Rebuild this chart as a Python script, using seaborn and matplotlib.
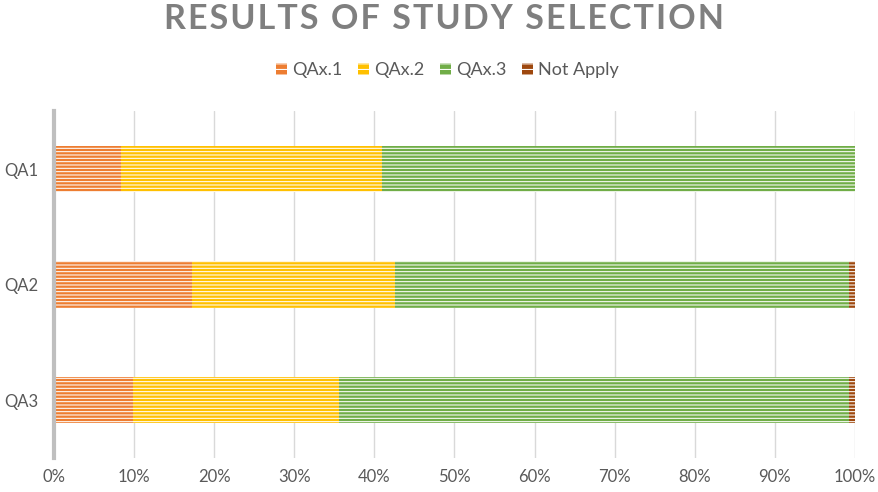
import matplotlib
matplotlib.use("Agg")
import matplotlib.pyplot as plt
import seaborn as sns
import pandas as pd
import numpy as np

# ==================== DATA ====================
QUESTIONS = ["QA1", "QA2", "QA3"]
SERIES = ["QAx.1", "QAx.2", "QAx.3", "Not Apply"]
QAX1 = [8.4, 17.2, 9.9]
QAX2 = [32.6, 25.4, 25.7]
QAX3 = [59.0, 56.7, 63.7]
NOT_APPLY = [0.0, 0.7, 0.7]
COLORS = ["#ED7D31", "#FFC000", "#70AD47", "#9E480E"]

# ==================== PLOT ====================
sns.set_style("white")
plt.rcParams["font.family"] = ["Lato", "DejaVu Sans"]
plt.rcParams["hatch.linewidth"] = 0.75

values = np.array([QAX1, QAX2, QAX3, NOT_APPLY])
cum = values.cumsum(axis=0)

fig = plt.figure(figsize=(8.79, 4.92), dpi=100)
ax = fig.add_axes([0.0614, 0.069, 0.9113, 0.705])

# draw from the largest cumulative down so each segment overlays the next
for i in reversed(range(len(SERIES))):
    df = pd.DataFrame({"question": QUESTIONS, "value": cum[i]})
    sns.barplot(data=df, x="value", y="question", orient="h", color=COLORS[i],
                width=0.4, ax=ax, saturation=1, zorder=3)

# thin white horizontal stripes on every bar
for p in ax.patches:
    p.set_hatch("-----")
    p.set_edgecolor("white")
    p.set_linewidth(0)

ax.set_xlim(0, 100)
ax.set_ylim(2.5, -0.5)
ax.set_xticks(np.arange(0, 101, 10))
ax.set_xticklabels([f"{v}%" for v in range(0, 101, 10)])
ax.set_xlabel("")
ax.set_ylabel("")
ax.grid(axis="x", color="#d9d9d9", linewidth=1, zorder=0)
ax.tick_params(axis="both", length=0, colors="#595959", labelsize=12, pad=8)
ax.tick_params(axis="y", pad=11)
for s in ["top", "right", "bottom"]:
    ax.spines[s].set_visible(False)
ax.spines["left"].set_color("#bfbfbf")
ax.spines["left"].set_linewidth(3)
ax.spines["left"].set_zorder(4)

title = "\u200a".join("RESULTS OF STUDY SELECTION")
fig.text(0.505, 0.962, title, ha="center", va="center", fontsize=24.5,
         fontweight="bold", color="#7f7f7f")

handles = [plt.Rectangle((0, 0), 1, 1, facecolor=c, edgecolor="white", hatch="---", linewidth=0)
           for c in COLORS]
fig.legend(handles, SERIES, loc="center", bbox_to_anchor=(0.509, 0.857), ncol=4, frameon=False,
           fontsize=13, labelcolor="#595959", handlelength=0.6, handleheight=0.6,
           handletextpad=0.3, columnspacing=0.85)

fig.savefig("out.png", dpi=100)
